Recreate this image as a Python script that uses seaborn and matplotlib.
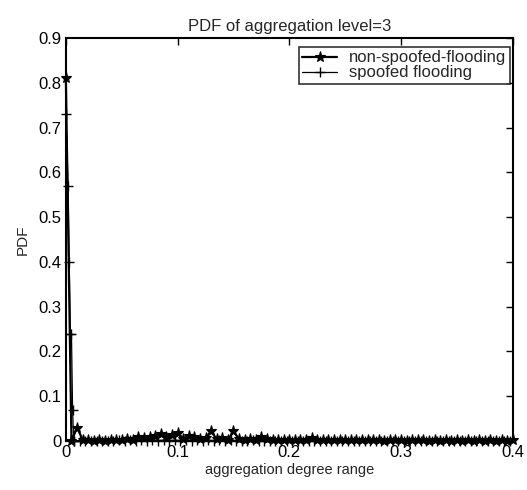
import numpy as np
import pandas as pd
import matplotlib
matplotlib.use("Agg")
import matplotlib.pyplot as plt
import seaborn as sns

sns.set_style("white")
plt.rcParams['font.family'] = ['Liberation Sans', 'DejaVu Sans']

# non-spoofed flooding: x positions (aggregation degree) and PDF values
ns_x = [round(0.005 * i, 4) for i in range(81)]
ns_y = [0.81, 0.0, 0.03, 0.003, 0.002, 0.001, 0.002, 0.001, 0.002, 0.003,
        0.002, 0.004, 0.003, 0.008, 0.006, 0.009, 0.012, 0.015, 0.010, 0.014,
        0.018, 0.005, 0.012, 0.010, 0.004, 0.007, 0.022, 0.004, 0.006, 0.002,
        0.022, 0.004, 0.003, 0.005, 0.003, 0.010, 0.004, 0.003, 0.002, 0.003,
        0.002, 0.003, 0.002, 0.003, 0.006, 0.003, 0.002, 0.003, 0.002, 0.003,
        0.002, 0.003, 0.002, 0.003, 0.002, 0.003, 0.002, 0.001, 0.002, 0.003,
        0.002, 0.001, 0.002, 0.003, 0.002, 0.001, 0.002, 0.001, 0.002, 0.001,
        0.002, 0.001, 0.002, 0.001, 0.002, 0.001, 0.002, 0.001, 0.002, 0.001,
        0.002]

# spoofed flooding
sp_x = [0.0, 0.002, 0.003, 0.004, 0.005, 0.006, 0.007] + \
       [round(0.0075 + 0.005 * i, 4) for i in range(79)]
sp_y = [0.73, 0.57, 0.40, 0.24, 0.24, 0.07, 0.0] + \
       [0.0, 0.001, 0.0, 0.001, 0.0, 0.001, 0.0, 0.001, 0.002, 0.001,
        0.002, 0.001, 0.002, 0.001, 0.002, 0.001, 0.002, 0.001, 0.002, 0.001,
        0.002, 0.001, 0.002, 0.001, 0.002, 0.001, 0.002, 0.001, 0.002, 0.001,
        0.001, 0.001, 0.002, 0.001, 0.001, 0.001, 0.001, 0.001, 0.001, 0.001,
        0.001, 0.001, 0.001, 0.001, 0.001, 0.001, 0.001, 0.001, 0.001, 0.001,
        0.001, 0.001, 0.001, 0.001, 0.001, 0.001, 0.001, 0.001, 0.001, 0.001,
        0.001, 0.001, 0.001, 0.001, 0.001, 0.001, 0.001, 0.001, 0.001, 0.001,
        0.001, 0.001, 0.001, 0.001, 0.001, 0.001, 0.001, 0.001, 0.001]

x_ticks = [0, 0.1, 0.2, 0.3, 0.4]
x_ticklabels = ["0", "0.1", "0.2", "0.3", "0.4"]
y_ticks = [0, 0.1, 0.2, 0.3, 0.4, 0.5, 0.6, 0.7, 0.8, 0.9]
y_ticklabels = ["0", "0.1", "0.2", "0.3", "0.4", "0.5", "0.6", "0.7", "0.8", "0.9"]

fig = plt.figure(figsize=(5.27, 4.90), dpi=100)
ax = fig.add_axes([0.125, 0.100, 0.848, 0.822])

sns.lineplot(x=ns_x, y=ns_y, ax=ax, color='black', linewidth=1.6,
             marker='*', markersize=8, markeredgecolor='black',
             markeredgewidth=0.8, label='non-spoofed-flooding', sort=False,
             clip_on=False, zorder=3)
sns.lineplot(x=sp_x, y=sp_y, ax=ax, color='black', linewidth=0.9,
             marker='+', markersize=7, markeredgewidth=1.0,
             markeredgecolor='black', label='spoofed flooding', sort=False,
             clip_on=False, zorder=3)

ax.set_xlim(0, 0.4)
ax.set_ylim(0, 0.9)
ax.set_xticks(x_ticks)
ax.set_xticklabels(x_ticklabels)
ax.set_yticks(y_ticks)
ax.set_yticklabels(y_ticklabels)
ax.tick_params(direction='in', length=5, width=1, top=True, right=True,
               labelsize=12, colors='black', pad=3)
for s in ax.spines.values():
    s.set_color('black')
    s.set_linewidth(1.5)

ax.set_title("PDF of aggregation level=3", fontsize=12, pad=5)
ax.set_xlabel("aggregation degree range", fontsize=10.5, labelpad=2)
ax.set_ylabel("PDF", fontsize=11, labelpad=6)

leg = ax.legend(loc='upper right', bbox_to_anchor=(0.993, 0.978),
                borderaxespad=0, fontsize=12, frameon=True, fancybox=False,
                edgecolor='black', handlelength=2.1,
                handletextpad=0.7, borderpad=0.2, labelspacing=0.0)
leg.get_frame().set_linewidth(1.2)
leg.set_zorder(5)

fig.savefig("out.png", dpi=100)
